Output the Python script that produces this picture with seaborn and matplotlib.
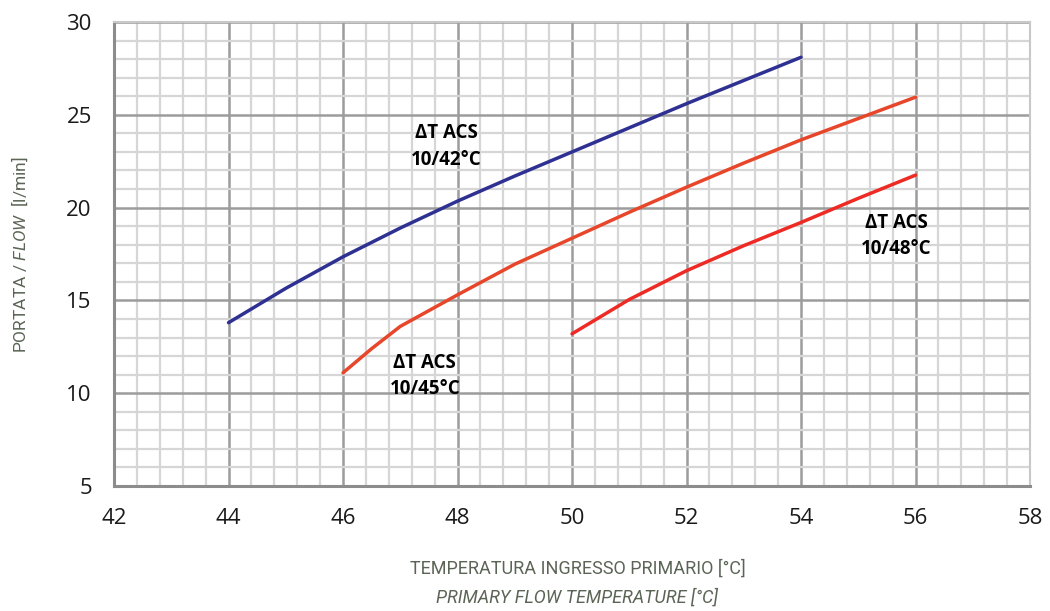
import numpy as np
import pandas as pd
import matplotlib
matplotlib.use("Agg")
import matplotlib.pyplot as plt
from matplotlib.ticker import MultipleLocator
import seaborn as sns

# valori
temp_42 = [44, 45, 46, 47, 48, 49, 50, 51, 52, 53, 54]
flow_42 = [13.8, 15.65, 17.35, 18.9, 20.35, 21.7, 23.0, 24.3, 25.6, 26.85, 28.1]

temp_45 = [46, 46.5, 47, 48, 49, 50, 51, 52, 53, 54, 55, 56]
flow_45 = [11.1, 12.4, 13.6, 15.3, 16.95, 18.35, 19.75, 21.1, 22.4, 23.65, 24.8, 25.95]

temp_48 = [50, 51, 52, 53, 54, 55, 56]
flow_48 = [13.2, 15.05, 16.6, 17.95, 19.2, 20.5, 21.75]

series = ["10/42°C", "10/45°C", "10/48°C"]
colors = ["#2e3192", "#e8462a", "#ee2a24"]

df = pd.concat([
    pd.DataFrame({"temp": temp_42, "flow": flow_42, "serie": series[0]}),
    pd.DataFrame({"temp": temp_45, "flow": flow_45, "serie": series[1]}),
    pd.DataFrame({"temp": temp_48, "flow": flow_48, "serie": series[2]}),
])

sns.set_style("white")
plt.rcParams['font.family'] = ['Open Sans', 'DejaVu Sans']
plt.rcParams['mathtext.fontset'] = 'custom'
plt.rcParams['mathtext.it'] = 'Roboto:italic'
plt.rcParams['mathtext.rm'] = 'Roboto'

fig = plt.figure(figsize=(10.5, 6.11), dpi=100)
ax = fig.add_axes([0.1086, 0.2046, 0.8724, 0.7594])

sns.lineplot(data=df, x="temp", y="flow", hue="serie", palette=colors,
             linewidth=2.5, legend=False, ax=ax, zorder=5)

ax.set_xlim(42, 58)
ax.set_ylim(5, 30)
ax.xaxis.set_major_locator(MultipleLocator(2))
ax.xaxis.set_minor_locator(MultipleLocator(0.4))
ax.yaxis.set_major_locator(MultipleLocator(5))
ax.yaxis.set_minor_locator(MultipleLocator(1))
ax.grid(which="minor", color="#d6d6d6", linewidth=1.6)
ax.grid(which="major", color="#9c9c9c", linewidth=1.8)
ax.set_axisbelow(True)
ax.tick_params(which="both", length=0)
ax.tick_params(axis="both", labelsize=16, colors="#1a1a1a")
ax.tick_params(axis="x", pad=16)
ax.tick_params(axis="y", pad=16)

for s in ["top", "right"]:
    ax.spines[s].set_color("#c8c8c8")
    ax.spines[s].set_linewidth(1.5)
for s in ["left", "bottom"]:
    ax.spines[s].set_color("#8c8c8c")
    ax.spines[s].set_linewidth(2.2)

ax.set_xlabel("")
ax.set_ylabel("")
fig.text(0.019, 0.583, "PORTATA / $\\it{FLOW}$  [l/min]", rotation=90, ha="center", va="center",
         family="Roboto", fontsize=12.5, color="#5b6556")

fig.text(0.55, 0.07, "TEMPERATURA INGRESSO PRIMARIO [°C]", ha="center", va="center",
         family="Roboto", fontsize=13, color="#5b6556")
fig.text(0.55, 0.022, "PRIMARY FLOW TEMPERATURE [°C]", ha="center", va="center",
         family="Roboto", fontsize=13, style="italic", color="#5b6556")

label_x = [47.8, 47.43, 55.66]
label_y = [23.3, 10.93, 18.47]
for lx, ly, s in zip(label_x, label_y, series):
    ax.text(lx, ly, "ΔT ACS\n" + s, ha="center", va="center", fontsize=13.5,
            fontweight="bold", color="black", linespacing=1.45, zorder=6)

fig.savefig("out.png", dpi=100)
